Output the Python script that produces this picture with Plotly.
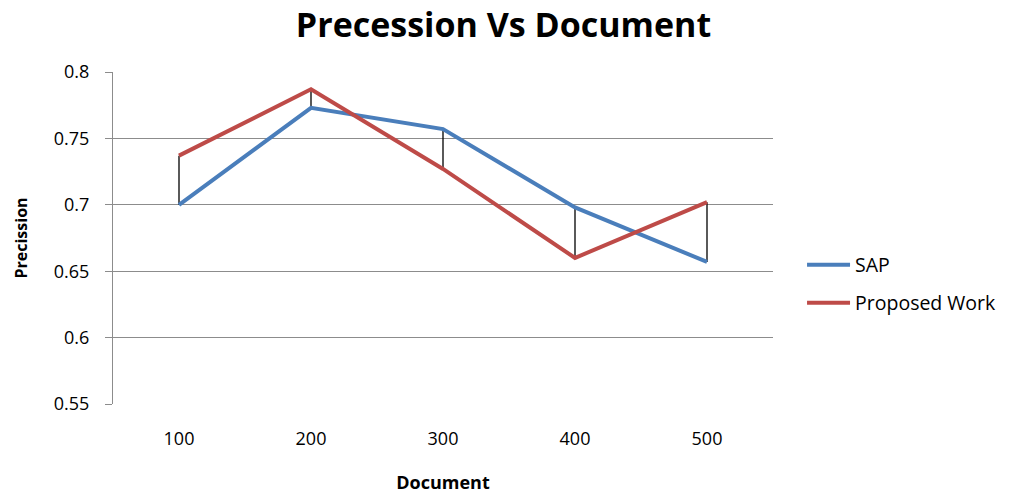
import plotly.graph_objects as go

documents = ["100", "200", "300", "400", "500"]
sap = [0.700, 0.773, 0.757, 0.698, 0.657]
proposed = [0.737, 0.787, 0.727, 0.660, 0.702]
y_ticks = [0.55, 0.6, 0.65, 0.7, 0.75, 0.8]
y_tick_labels = ["0.55", "0.6", "0.65", "0.7", "0.75", "0.8"]

FONT = "Open Sans"

# high-low connector lines built from the data
hl_x, hl_y = [], []
for d, a, b in zip(documents, sap, proposed):
    hl_x += [d, d, None]
    hl_y += [a, b, None]

fig = go.Figure()
fig.add_trace(go.Scatter(x=hl_x, y=hl_y, mode="lines",
                         line=dict(color="black", width=1.3),
                         showlegend=False, hoverinfo="skip"))
fig.add_trace(go.Scatter(x=documents, y=sap, mode="lines", name="SAP",
                         line=dict(color="#4A7EBB", width=4), legend="legend"))
fig.add_trace(go.Scatter(x=documents, y=proposed, mode="lines", name="Proposed Work",
                         line=dict(color="#BE4B48", width=4), legend="legend2"))

W = 1012
fig.update_layout(
    width=W, height=486,
    paper_bgcolor="white", plot_bgcolor="white",
    margin=dict(l=105, r=247, t=64, b=90),
    font=dict(family=FONT, size=18, color="black"),
    title=dict(text="<b>Precession Vs Document</b>", x=495.5 / W, xanchor="center",
               y=1 - 17 / 486, yanchor="middle", font=dict(size=34, family=FONT, color="black")),
    xaxis=dict(type="category", range=[-0.5, 4.5], showgrid=False, showline=False,
               ticks="", zeroline=False, ticklabelstandoff=22,
               title=dict(text="<b>Document</b>", font=dict(size=18), standoff=27),
               tickfont=dict(size=18), automargin=False),
    yaxis=dict(range=[0.55, 0.8], tickvals=y_ticks, ticktext=y_tick_labels,
               showgrid=True, gridcolor="#8C8C8C", gridwidth=1,
               showline=True, linecolor="#8C8C8C", linewidth=1,
               ticks="outside", ticklen=7, tickcolor="#8C8C8C",
               zeroline=False, ticklabelstandoff=12,
               title=dict(text="<b>Precission</b>", font=dict(size=16), standoff=22),
               tickfont=dict(size=18), automargin=False),
    legend=dict(x=1.044, y=(404 - 265) / 332, xanchor="left", yanchor="middle",
                font=dict(size=19.5), bgcolor="rgba(0,0,0,0)", itemwidth=43,
                borderwidth=0),
    legend2=dict(x=1.044, y=(404 - 303) / 332, xanchor="left", yanchor="middle",
                 font=dict(size=19.5), bgcolor="rgba(0,0,0,0)", itemwidth=43,
                 borderwidth=0),
)

fig.write_html("out.html")
